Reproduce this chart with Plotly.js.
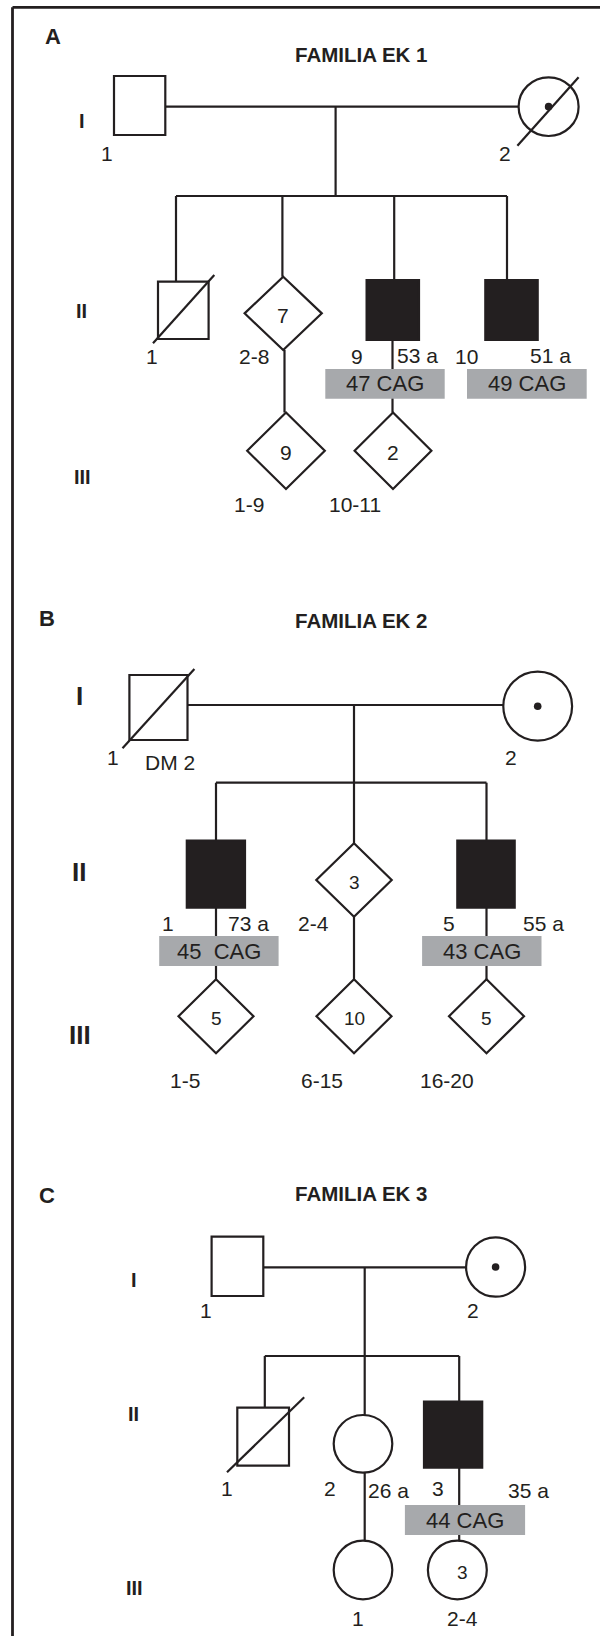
<!DOCTYPE html>
<html>
<head>
<meta charset="utf-8">
<script src="https://cdn.plot.ly/plotly-3.0.1.min.js"></script>
<style>html,body{margin:0;padding:0;background:#fff;}#chart{width:600px;height:1636px;}</style>
</head>
<body>
<div id="chart"></div>
<script>
// ---------------- DATA ----------------
const panelLetters = ['A', 'B', 'C'];
const familyTitles = ['FAMILIA EK 1', 'FAMILIA EK 2', 'FAMILIA EK 3'];
const generationLabels = ['I', 'II', 'III'];

// Family EK 1
const A_ids      = ['1', '2', '1', '2-8', '9', '10', '1-9', '10-11'];
const A_sex      = ['M', 'F', 'M', 'U', 'M', 'M', 'U', 'U'];
const A_affected = [false, false, false, false, true, true, false, false];
const A_deceased = [false, true, true, false, false, false, false, false];
const A_carrier  = [false, true, false, false, false, false, false, false];
const A_count    = ['', '', '', '7', '', '', '9', '2'];
const A_age      = ['', '', '', '', '53 a', '51 a', '', ''];
const A_cag      = ['', '', '', '', '47 CAG', '49 CAG', '', ''];
const A_note     = ['', '', '', '', '', '', '', ''];

// Family EK 2
const B_ids      = ['1', '2', '1', '2-4', '5', '1-5', '6-15', '16-20'];
const B_sex      = ['M', 'F', 'M', 'U', 'M', 'U', 'U', 'U'];
const B_affected = [false, false, true, false, true, false, false, false];
const B_deceased = [true, false, false, false, false, false, false, false];
const B_carrier  = [false, true, false, false, false, false, false, false];
const B_count    = ['', '', '', '3', '', '5', '10', '5'];
const B_age      = ['', '', '73 a', '', '55 a', '', '', ''];
const B_cag      = ['', '', '45  CAG', '', '43 CAG', '', '', ''];
const B_note     = ['DM 2', '', '', '', '', '', '', ''];

// Family EK 3
const C_ids      = ['1', '2', '1', '2', '3', '1', '2-4'];
const C_sex      = ['M', 'F', 'M', 'F', 'M', 'F', 'F'];
const C_affected = [false, false, false, false, true, false, false];
const C_deceased = [false, false, true, false, false, false, false];
const C_carrier  = [false, true, false, false, false, false, false];
const C_count    = ['', '', '', '', '', '', '3'];
const C_age      = ['', '', '', '26 a', '35 a', '', ''];
const C_cag      = ['', '', '', '', '44 CAG', '', ''];
const C_note     = ['', '', '', '', '', '', ''];

// ---------------- PLACEMENT (diagram geometry, kept apart from the data) ----------------
const P = [
  { // panel A
    letter: [52.6, 36], title: [361, 54], genFont: 20, cntFont: 21,
    gen: [[82.3, 120.5], [81.3, 311], [82.3, 476.7]],
    box: [[114,165.3,76,135],[518.6,578.6,77.3,136],[158,208.6,281.7,339],[244.6,321.8,276.7,350],
          [366.6,419,280,340],[485.3,537.7,280,340],[247.2,324.8,412.5,489],[354.6,431.4,412.5,489]],
    idPos: [[106.7,153],[505,153],[152.3,356.7],[254.4,356.7],[356.7,356.7],[466,356.7],[249.3,504.5],[355,504.5]],
    agePos: [null,null,null,null,[417.6,355],[550,355],null,null],
    notePos: [null,null,null,null,null,null,null,null],
    cagBox: [null,null,null,null,[325.3,444.7,369,398.8],[467,586.7,369,398.8],null,null],
    slash: [null,[517.4,145.7,578.6,77.3],[153,343.3,214.3,275],null,null,null,null,null],
    lines: [[165.3,106.7,518.6,106.7],[335.6,106.7,335.6,196],[176,196,507,196],[176,196,176,281.7],
            [282.4,196,282.4,276.7],[394.2,196,394.2,280],[507,196,507,280],[284.5,350,284.5,412.5],[392.5,340,392.5,412.5]]
  },
  { // panel B
    letter: [47, 618], title: [361.6, 620], genFont: 26, cntFont: 19,
    gen: [[79.4, 695.8], [79.4, 871.7], [79.8, 1035.3]],
    box: [[129.4,187.5,675,740],[503.3,572.1,671.7,740.7],[186.8,245,840.7,907.7],[316.3,391.7,843.3,916.7],
          [457.3,514.7,840.7,907.7],[178.5,253.5,979.3,1053.3],[316.5,391.5,979.3,1053.3],[449,524,979.3,1053.3]],
    idPos: [[113,757],[511,757],[167.5,923.3],[313.8,923.3],[448.7,923.3],[185,1080],[321.9,1080],[447.4,1080]],
    agePos: [null,null,[248.8,923.3],null,[543.4,923.3],null,null,null],
    notePos: [[170.3,762.5],null,null,null,null,null,null,null],
    cagBox: [null,null,[159.2,278.6,936,966],null,[422.1,541.5,936,966],null,null,null],
    slash: [[122.5,748.3,194.4,669],null,null,null,null,null,null,null],
    lines: [[187.5,705,503.3,705],[354,705,354,843.3],[216,782.7,486.5,782.7],[216,782.7,216,840.7],
            [486.5,782.7,486.5,840.7],[216,907.7,216,979.3],[354,916.7,354,979.3],[486.5,907.7,486.5,979.3]]
  },
  { // panel C
    letter: [47, 1195], title: [361.6, 1193.3], genFont: 20, cntFont: 19,
    gen: [[133.6, 1280], [133.4, 1414], [134, 1587.5]],
    box: [[211.6,263.3,1236.7,1296],[466.1,525.1,1237.3,1296.7],[237.3,289,1407.7,1465.7],[333.7,392.3,1415,1472.7],
          [424,482.2,1401.7,1467.7],[333.7,392.3,1540.7,1599.3],[427.9,486.8,1540.7,1599.3]],
    idPos: [[206.3,1310],[473.4,1310],[227.3,1488.3],[330.3,1488.3],[438.2,1488.3],[358.4,1618.3],[462.7,1618.3]],
    agePos: [null,null,null,[388.4,1490],[528.1,1490],null,null],
    notePos: [null,null,null,null,null,null,null],
    cagBox: [null,null,null,null,[404.9,525.1,1505,1535],null,null],
    slash: [null,null,[227,1472.3,304.2,1397.3],null,null,null,null],
    lines: [[263.3,1267.3,466.1,1267.3],[364.7,1267.3,364.7,1356],[264.8,1356,459.2,1356],[264.8,1356,264.8,1407.7],
            [364.7,1356,364.7,1415],[459.2,1356,459.2,1401.7],[364.7,1472.7,364.7,1540.7],[459.2,1467.7,459.2,1540.7]]
  }
];
const countShift = [[0,0,0,0,0,0,0,0],[0,0,0,0,0,0,0,0],[0,0,0,0,0,0,5]];

// ---------------- DRAWING ----------------
const INK = '#231f20', GRAY = '#a7a9ac', FONT = 'Liberation Sans, Arial, Helvetica, sans-serif';
const shapes = [], ann = [];
function seg(c, w) { shapes.push({type:'line', xref:'x', yref:'y', x0:c[0], y0:c[1], x1:c[2], y1:c[3], line:{color:INK, width:w||2.2}}); }
function txt(x, y, t, size, bold) {
  ann.push({xref:'x', yref:'y', x:x, y:y, text: bold ? '<b>' + t + '</b>' : t, showarrow:false,
            xanchor:'center', yanchor:'middle', font:{family:FONT, size:size, color:INK}});
}

const fams = [
  {ids:A_ids, sex:A_sex, aff:A_affected, dec:A_deceased, car:A_carrier, cnt:A_count, age:A_age, cag:A_cag, note:A_note},
  {ids:B_ids, sex:B_sex, aff:B_affected, dec:B_deceased, car:B_carrier, cnt:B_count, age:B_age, cag:B_cag, note:B_note},
  {ids:C_ids, sex:C_sex, aff:C_affected, dec:C_deceased, car:C_carrier, cnt:C_count, age:C_age, cag:C_cag, note:C_note}
];

// frame
seg([12.5, 7.3, 600, 7.3], 2.8);
seg([12.5, 7.3, 12.5, 1636], 2.8);

fams.forEach(function (f, p) {
  const g = P[p];
  txt(g.letter[0], g.letter[1], panelLetters[p], 22, true);
  txt(g.title[0], g.title[1], familyTitles[p], 20.5, true);
  generationLabels.forEach(function (lab, i) { txt(g.gen[i][0], g.gen[i][1], lab, g.genFont, true); });
  g.lines.forEach(function (c) { seg(c, 2.2); });
  f.ids.forEach(function (id, i) {
    const b = g.box[i], cx = (b[0] + b[1]) / 2, cy = (b[2] + b[3]) / 2;
    const fill = f.aff[i] ? INK : 'white';
    if (f.sex[i] === 'M') {
      shapes.push({type:'rect', xref:'x', yref:'y', x0:b[0], x1:b[1], y0:b[2], y1:b[3], fillcolor:fill, line:{color:INK, width:2.2}});
    } else if (f.sex[i] === 'F') {
      shapes.push({type:'circle', xref:'x', yref:'y', x0:b[0], x1:b[1], y0:b[2], y1:b[3], fillcolor:fill, line:{color:INK, width:2.2}});
    } else {
      shapes.push({type:'path', xref:'x', yref:'y', fillcolor:fill, line:{color:INK, width:2.2},
        path:'M' + cx + ',' + b[2] + ' L' + b[1] + ',' + cy + ' L' + cx + ',' + b[3] + ' L' + b[0] + ',' + cy + ' Z'});
    }
    if (f.car[i]) {
      shapes.push({type:'circle', xref:'x', yref:'y', x0:cx - 3.8, x1:cx + 3.8, y0:cy - 3.8, y1:cy + 3.8, fillcolor:INK, line:{color:INK, width:0}});
    }
    if (f.dec[i]) seg(g.slash[i], 2.2);
    if (f.cnt[i]) txt(cx + countShift[p][i], cy + 2, f.cnt[i], g.cntFont, false);
    txt(g.idPos[i][0], g.idPos[i][1], id, 21, false);
    if (f.age[i]) txt(g.agePos[i][0], g.agePos[i][1], f.age[i], 21, false);
    if (f.note[i]) txt(g.notePos[i][0], g.notePos[i][1], f.note[i], 21, false);
    if (f.cag[i]) {
      const c = g.cagBox[i];
      shapes.push({type:'rect', xref:'x', yref:'y', x0:c[0], x1:c[1], y0:c[2], y1:c[3], fillcolor:GRAY, line:{width:0}});
      txt((c[0] + c[1]) / 2, (c[2] + c[3]) / 2, f.cag[i], 22, false);
    }
  });
});

const layout = {
  width: 600, height: 1636,
  margin: {l:0, r:0, t:0, b:0, pad:0},
  paper_bgcolor: '#ffffff', plot_bgcolor: '#ffffff',
  showlegend: false,
  xaxis: {range:[0, 600], visible:false, fixedrange:true},
  yaxis: {range:[1636, 0], visible:false, fixedrange:true},
  shapes: shapes, annotations: ann
};
Plotly.newPlot('chart', [{x:[], y:[], type:'scatter', mode:'markers', hoverinfo:'skip'}], layout, {staticPlot:true, displayModeBar:false});
</script>
</body>
</html>
